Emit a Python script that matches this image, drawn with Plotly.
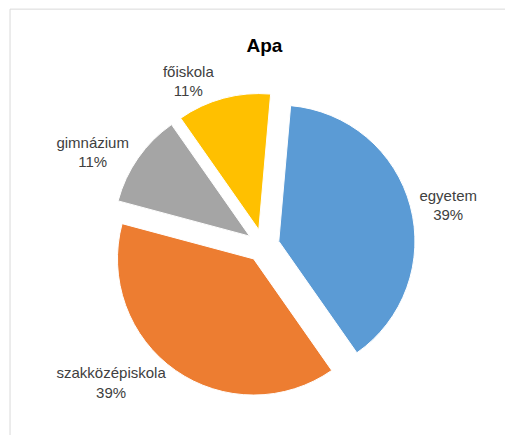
import plotly.graph_objects as go

labels = ["egyetem", "szakközépiskola", "gimnázium", "főiskola"]
values = [7, 7, 2, 2]
colors = ["#5B9BD5", "#ED7D31", "#A5A5A5", "#FFC000"]

fig = go.Figure(
    go.Pie(
        labels=labels,
        values=values,
        sort=False,
        direction="clockwise",
        rotation=5,
        pull=[0.12, 0.12, 0.12, 0.12],
        marker=dict(colors=colors, line=dict(color="white", width=1)),
        texttemplate="%{label}<br>%{percent:.0%}",
        textposition="outside",
        textfont=dict(size=15, color="#404040"),
        showlegend=False,
    )
)

fig.update_layout(
    width=513,
    height=435,
    title=dict(text="<b>Apa</b>", x=0.5, y=0.93, font=dict(size=19, color="black")),
    font=dict(family="Liberation Sans"),
    margin=dict(l=100, r=100, t=85, b=45),
    paper_bgcolor="white",
    shapes=[dict(type="rect", xref="paper", yref="paper", x0=-0.316, x1=1.316,
                 y0=-0.145, y1=1.275, line=dict(color="#D9D9D9", width=1))],
)

fig.write_html("out.html")
